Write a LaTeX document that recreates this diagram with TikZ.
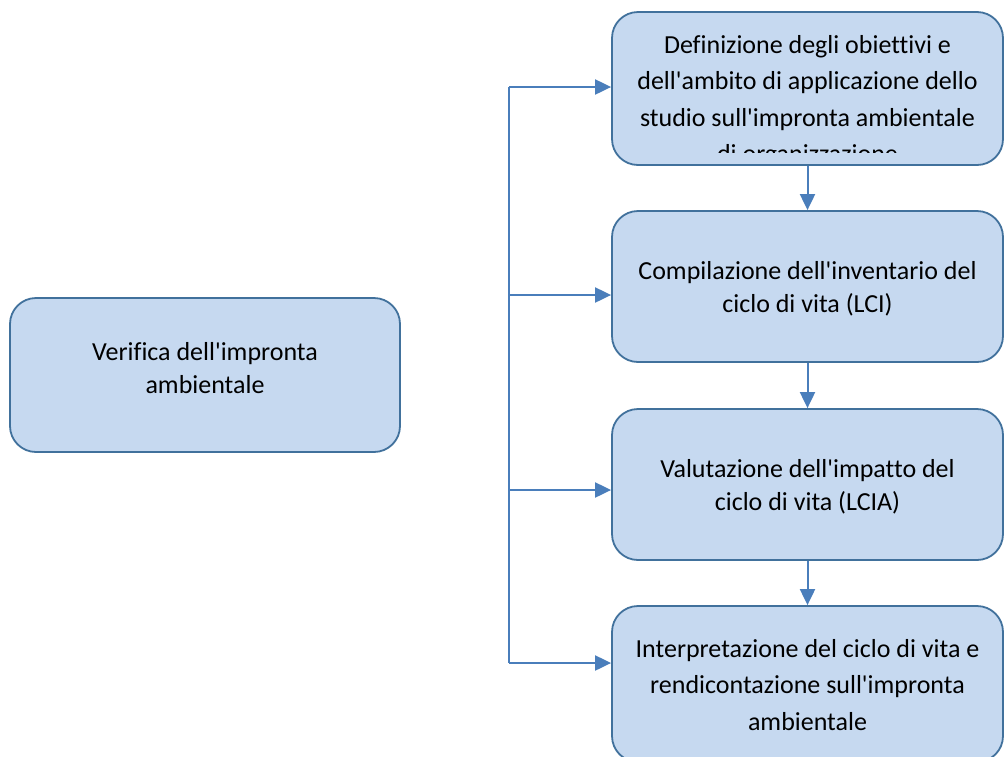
\documentclass[tikz,border=0pt]{standalone}
\usepackage{fontspec}
\setmainfont{Carlito}[Ligatures={TeXOff,CommonOff}]
\usetikzlibrary{arrows.meta}
\definecolor{boxfill}{RGB}{198,217,240}
\definecolor{boxline}{RGB}{65,113,156}
\definecolor{linkcol}{RGB}{74,126,187}
\begin{document}
\begin{tikzpicture}[x=1pt,y=-1pt,
  stepbox/.style={draw=boxline, fill=boxfill, line width=1.8pt, rounded corners=26pt,
    minimum width=391pt, minimum height=152pt, inner sep=0pt},
  label/.style={align=center, font=\fontsize{26}{36.5}\selectfont, inner sep=0pt},
  link/.style={draw=linkcol, line width=2pt, -{Triangle[length=16pt,width=15pt]}},
  trunk/.style={draw=linkcol, line width=2pt}]
\useasboundingbox (0,0) rectangle (1004,756);
\clip (0,0) rectangle (1004,756);

% left box
\node[stepbox, minimum width=390pt, minimum height=154pt] (verifica) at (205,375) {};
\node[label, font=\fontsize{26}{33}\selectfont] (verificaT) at (205,368) {Verifica dell'impronta\\ambientale};

% right column
\node[stepbox, minimum height=153pt] (def) at (807.5,88.5) {};
\begin{scope}
  \clip (614,14) rectangle (1001,152);
  \node[label, anchor=north] (defT) at (807.5,35) {Definizione degli obiettivi e\\dell'ambito di applicazione dello\\studio sull'impronta ambientale\\di organizzazione};
\end{scope}

\node[stepbox, minimum height=151pt] (lci) at (807.5,286.5) {};
\node[label, font=\fontsize{26}{33.5}\selectfont] (lciT) at (807.5,289) {Compilazione dell'inventario del\\ciclo di vita (LCI)};

\node[stepbox, minimum height=151pt] (lcia) at (807.5,484.5) {};
\node[label, font=\fontsize{26}{33.5}\selectfont] (lciaT) at (807.5,487) {Valutazione dell'impatto del\\ciclo di vita (LCIA)};

\node[stepbox, minimum height=156pt] (interp) at (807.5,684) {};
\node[label] (interpT) at (807.5,685) {Interpretazione del ciclo di vita e\\rendicontazione sull'impronta\\ambientale};

% vertical links between steps
\draw[link] (def.south) -- (lci.north);
\draw[link] (lci.south) -- (lcia.north);
\draw[link] (lcia.south) -- (interp.north);

% branching trunk
\coordinate (top) at (509,87);
\coordinate (b2) at (509,295);
\coordinate (b3) at (509,490);
\coordinate (bot) at (509,663);
\draw[trunk] (top) -- (bot);
\draw[link] (top) -- (top -| def.west);
\draw[link] (b2) -- (b2 -| lci.west);
\draw[link] (b3) -- (b3 -| lcia.west);
\draw[link] (bot) -- (bot -| interp.west);
\end{tikzpicture}
\end{document}
